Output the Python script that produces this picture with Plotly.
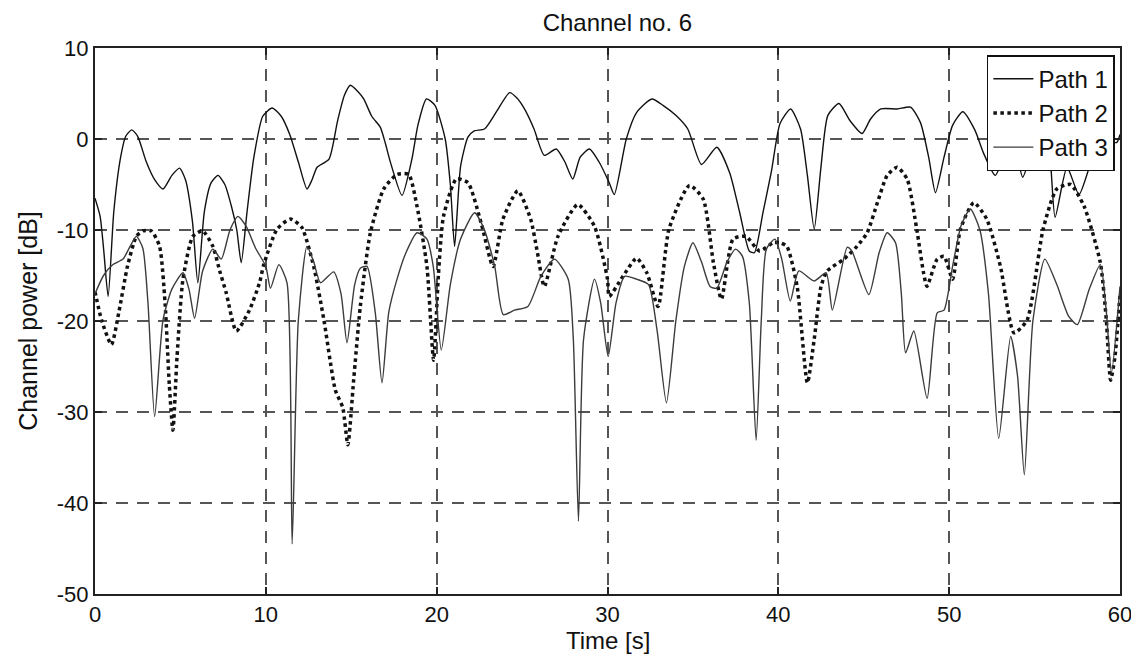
import plotly.graph_objects as go

# values (time in s, power in dB)
path1_t = [0.0, 0.3, 0.5, 0.77, 1.1, 1.5, 1.8, 2.15, 2.5, 3.0, 3.5, 3.98, 4.5, 4.95, 5.3, 5.7,
           6.02, 6.4, 6.8, 7.2, 7.6, 8.0, 8.3, 8.56, 8.9, 9.3, 9.82, 10.37, 10.9, 11.4, 11.9,
           12.41, 12.7, 13.0, 13.7, 14.2, 14.6, 14.95, 15.4, 15.73, 16.2, 16.7, 17.0, 17.3,
           17.97, 18.55, 18.9, 19.4, 19.9, 20.5, 20.8, 21.05, 21.4, 21.83, 22.2, 22.8, 23.5,
           24.27, 24.7, 25.14, 25.7, 26.3, 27.0, 27.5, 27.97, 28.4, 28.94, 29.5, 30.1, 30.4,
           31.1, 31.7, 32.6, 33.25, 34.0, 34.7, 35.5, 36.4, 37.15, 37.74, 38.3, 38.6, 39.1,
           39.6, 40.1, 40.72, 41.3, 41.7, 42.1, 42.5, 42.9, 43.55, 44.2, 44.9, 45.4, 46.0,
           46.96, 47.74, 48.32, 48.8, 49.2, 49.7, 50.2, 50.8, 51.5, 52.0, 52.7, 53.4, 53.8,
           54.3, 55.0, 55.5, 55.9, 56.2, 56.9, 57.6, 58.4, 59.0, 59.8, 60.0]
path1_db = [-6.5, -8.5, -12, -17.3, -8, -2, 0.3, 1.0, 0.3, -2.5, -4.5, -5.5, -4.0, -3.2, -4.5, -9,
            -15.8, -8, -4.8, -4.0, -5.0, -7.5, -10, -13.6, -8, -2, 2.5, 3.4, 2.5, 0.5, -2.5,
            -5.5, -4.5, -3.1, -2.2, 2, 4.8, 5.9, 5.2, 4.4, 2.5, 1.3, -0.5, -2.6,
            -6.2, -2.2, 1.5, 4.4, 3.7, 0, -5, -11.8, -3, 0.2, 0.9, 1.1, 3.0,
            5.1, 4.5, 3.3, 1.1, -1.8, -1.1, -2.5, -4.4, -2.0, -1.1, -2.5, -4.8, -6.1,
            0, 2.9, 4.4, 3.7, 2.6, 1.1, -2.8, -0.9, -3.7, -8.1, -12.3, -12.5, -8.1,
            -3.5, 1.7, 3.3, 1.1, -4, -9.9, -3, 2.6, 3.9, 2.0, 0.6, 2.2, 3.3,
            3.3, 3.5, 1.8, -2, -5.9, -2, 1.5, 3.0, 1.0, -1.5, -4.0, -1.0, -0.5,
            -4.2, -0.5, 1.0, -2, -8.6, -3.1, -6.1, -2.0, 0.0, -0.4, 0.5]

path2_t = [0.0, 0.4, 0.96, 1.4, 1.9, 2.42, 2.8, 3.3, 3.78, 4.1, 4.35, 4.56, 4.8, 5.15, 5.73, 6.3,
           6.9, 7.3, 7.68, 8.27, 9.04, 9.63, 9.88, 10.66, 11.44, 12.1, 12.8, 13.4, 14.07, 14.5,
           14.8, 15.14, 15.53, 16.12, 16.9, 17.68, 18.36, 18.85, 19.43, 19.82, 20.1, 20.4,
           21.15, 21.83, 22.6, 23.3, 23.88, 24.75, 25.5, 25.9, 26.3, 27.1, 28.26, 29.24, 30.0,
           30.1, 30.9, 31.7, 32.3, 32.96, 33.6, 34.8, 35.6, 36.2, 36.67, 37.35, 38.1, 38.9,
           39.7, 40.1, 40.5, 41.1, 41.7, 42.1, 42.5, 42.86, 43.84, 44.6, 45.2, 45.8, 46.37,
           46.96, 47.54, 48.1, 48.5, 48.7, 49.3, 49.7, 50.2, 50.66, 51.44, 52.2, 53.0, 53.8,
           54.56, 55.5, 56.3, 57.1, 57.9, 58.85, 59.2, 59.45, 59.7, 60.0]
path2_db = [-16.8, -20, -22.6, -19, -14, -10.7, -10.1, -10.1, -11.8, -18, -27, -32, -24, -15.4, -10.7, -10.1,
            -11.8, -14.5, -16.9, -21.1, -18.8, -15.8, -13.8, -9.9, -8.8, -9.7, -14, -19.9, -27.6, -29.5,
            -33.6, -26.5, -18.4, -10.3, -5.5, -3.9, -3.9, -7.4, -14, -24.3, -15, -8.5,
            -4.4, -4.8, -9.2, -14, -8.8, -5.7, -8.8, -12.5, -16.2, -10.7, -7.2, -9.6, -15.4,
            -17.3, -15.1, -13.1, -14.7, -18.4, -9.9, -5.1, -6.6, -13.6, -17.6, -11.0, -10.7, -12.3,
            -11.4, -11.4, -11.8, -16.2, -26.8, -22, -16.2, -14.5, -13.2, -11.8, -10.3, -7.0, -4.0,
            -3.1, -4.4, -9.9, -14.7, -16.2, -13.2, -12.9, -15.4, -9.9, -7.0, -8.8, -14, -21.3,
            -19.9, -9.9, -5.5, -5.0, -7.4, -13.6, -19.9, -26.5, -24, -17]

path3_t = [0.0, 0.5, 1.05, 1.64, 2.0, 2.42, 2.8, 3.1, 3.49, 3.98, 4.5, 5.15, 5.5, 5.83, 6.3, 6.9,
           7.39, 7.9, 8.36, 8.85, 9.4, 10.0, 10.27, 10.76, 11.24, 11.54, 11.9, 12.41, 12.8,
           13.2, 13.97, 14.4, 14.75, 15.2, 15.53, 15.92, 16.4, 16.8, 17.2, 17.68, 18.2, 18.85,
           19.43, 19.8, 20.27, 20.8, 21.4, 22.22, 22.8, 23.4, 23.9, 24.56, 25.34, 26.1, 26.9,
           27.7, 28.0, 28.3, 28.6, 29.24, 29.6, 30.04, 30.5, 31.0, 31.7, 32.4, 32.9, 33.45,
           34.0, 34.5, 35.0, 35.5, 36.0, 36.4, 37.0, 37.5, 37.9, 38.3, 38.7, 39.0, 39.3, 39.8,
           40.2, 40.7, 41.2, 42.1, 42.8, 43.16, 44.03, 44.3, 45.3, 45.9, 46.37, 46.86, 47.2,
           47.45, 47.93, 48.71, 49.3, 49.7, 50.2, 50.7, 51.24, 51.8, 52.3, 52.9, 53.6, 54.0,
           54.4, 54.9, 55.6, 56.3, 57.0, 57.5, 58.2, 58.85, 59.2, 59.5, 60.0]
path3_db = [-17, -15, -13.8, -13.2, -12, -10.7, -12, -18, -30.5, -19.9, -16.5, -14.7, -16.5, -19.7, -14.5, -12.1,
            -13.2, -10, -8.5, -9.6, -12, -14.0, -16.4, -13.8, -15.8, -44.5, -20, -11.8, -13.5,
            -15.8, -14.6, -17, -22.4, -16, -14.2, -14, -19, -26.8, -19, -15.4, -12.5, -10.3,
            -11, -14, -23.2, -16, -11, -8.1, -10, -14, -19.3, -18.8, -18.4, -15.1, -13.2,
            -15.4, -22, -42, -22, -15.4, -18, -23.9, -18, -15.1, -15.4, -16, -21, -29.0,
            -20, -14, -11.4, -13.5, -16.2, -16.4, -13.5, -12.1, -12.9, -18, -33.1, -20, -12.1, -11.0,
            -13.2, -17.8, -14.5, -15.6, -14.7, -18.8, -11.9, -12.3, -17.1, -12.5, -10.3, -11.4, -17,
            -23.5, -21.1, -28.5, -19.1, -18.8, -14, -9.5, -7.7, -10, -17, -32.9, -21.7, -26,
            -36.9, -20, -13.2, -16, -19.5, -20.4, -16.5, -13.8, -19, -25.7, -16.2]

x_ticks = [0, 10, 20, 30, 40, 50, 60]
y_ticks = [10, 0, -10, -20, -30, -40, -50]
y_tick_text = ['10', '0', '-10', '-20', '-30', '-40', '-50']

FONT = 'Liberation Sans, Arial, sans-serif'

fig = go.Figure()
fig.add_trace(go.Scatter(x=path1_t, y=path1_db, name='Path 1', mode='lines',
                         line=dict(color='#111111', width=1.4, shape='spline', smoothing=0.6)))
fig.add_trace(go.Scatter(x=path2_t, y=path2_db, name='Path 2', mode='lines',
                         line=dict(color='#111111', width=3.5, dash='dot', shape='spline', smoothing=0.6)))
fig.add_trace(go.Scatter(x=path3_t, y=path3_db, name='Path 3', mode='lines',
                         line=dict(color='#3c3c3c', width=1.4, shape='spline', smoothing=0.6)))

axis_common = dict(
    showline=True, linecolor='#222222', linewidth=2, mirror='ticks',
    ticks='inside', ticklen=7, tickcolor='#222222', tickwidth=1.5,
    showgrid=True, gridcolor='#555555', griddash='12px,9px', gridwidth=1.6,
    zeroline=False, automargin=False, tickfont=dict(size=22, color='#111111'),
)

fig.update_xaxes(range=[0, 60], tickvals=x_ticks, **axis_common)
fig.update_yaxes(range=[-50, 10], tickvals=y_ticks, ticktext=y_tick_text,
                 title=dict(text='Channel power [dB]', font=dict(size=25), standoff=12),
                 **axis_common)

# x title as an annotation so it can sit closer to the tick labels
fig.add_annotation(text='Time [s]', x=0.5, xref='paper', y=0, yref='paper',
                   xanchor='center', yanchor='top', yshift=-31, showarrow=False,
                   font=dict(size=24, family=FONT, color='#111111'))

# the page body adds an 8px offset, so margins are shifted to keep the reference placement
fig.update_layout(
    width=1139, height=660,
    margin=dict(l=87, r=27, t=40, b=74, autoexpand=False),
    paper_bgcolor='white', plot_bgcolor='white',
    font=dict(family=FONT, color='#111111', size=22),
    title=dict(text='Channel no. 6', x=0.535, xref='container', y=0.978, yref='container',
               xanchor='center', yanchor='middle', font=dict(size=24)),
    legend=dict(x=0.995, y=0.987, xanchor='right', yanchor='top',
                bgcolor='white', bordercolor='#111111', borderwidth=1.5,
                font=dict(size=24), tracegroupgap=0, itemwidth=40),
    showlegend=True,
)

fig.write_html('out.html')
